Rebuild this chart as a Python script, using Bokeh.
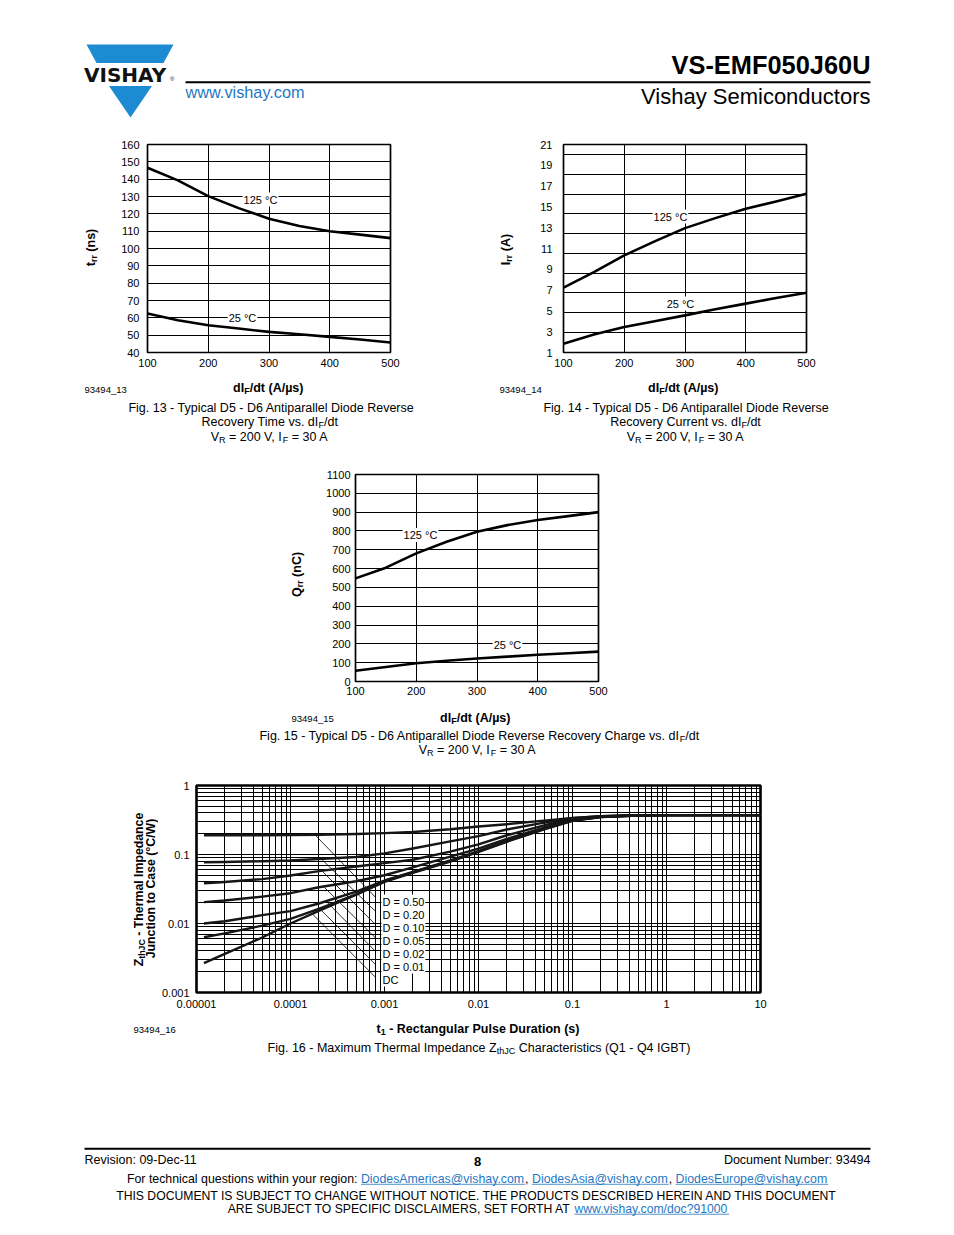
import math
from bokeh.plotting import figure
from bokeh.models import Range1d, Label, FixedTicker, CustomJSTickFormatter, LinearScale
from bokeh.layouts import column, row
from bokeh.embed import file_html
from bokeh.resources import INLINE
from bokeh.core.properties import value

FONT = "Liberation Sans"
BLUE = "#1d8bd1"
LINK = "#1f77c4"

# ---------------- data ----------------
didt = [100, 150, 200, 250, 300, 350, 400, 450, 500]
trr_125 = [146.6, 139.3, 130.2, 123.3, 117.2, 113.0, 110.0, 108.0, 106.0]
trr_25 = [62.5, 58.6, 55.7, 53.8, 51.9, 50.5, 49.0, 47.5, 45.8]
irr_125 = [7.23, 8.73, 10.34, 11.68, 12.96, 13.92, 14.82, 15.52, 16.26]
irr_25 = [1.85, 2.72, 3.45, 4.00, 4.57, 5.15, 5.70, 6.24, 6.75]
qrr_125 = [548, 605, 681, 743, 796, 831, 858, 879, 900]
qrr_25 = [57, 77, 97, 110, 122, 132, 142, 150, 159]

didt_ticks = [100, 200, 300, 400, 500]
trr_ticks = list(range(40, 161, 10))
irr_ticks = list(range(1, 22, 2))
irr_grid = [20.04, 18.13, 16.24, 14.35, 12.45, 10.54, 8.64, 6.74, 4.85, 2.95]
qrr_ticks = list(range(0, 1101, 100))

t1 = [1.2e-5, 2e-5, 5e-5, 1e-4, 2e-4, 5e-4, 1e-3, 2e-3, 5e-3, 1e-2, 2e-2, 5e-2, 1e-1, 2e-1, 5e-1, 1, 10]
z_050 = [0.190, 0.190, 0.190, 0.191, 0.193, 0.198, 0.204, 0.212, 0.232, 0.255, 0.275, 0.310, 0.340, 0.360, 0.370, 0.372, 0.372]
z_020 = [0.0774, 0.078, 0.080, 0.082, 0.086, 0.092, 0.104, 0.122, 0.155, 0.185, 0.230, 0.290, 0.335, 0.360, 0.370, 0.372, 0.372]
z_010 = [0.0384, 0.0400, 0.0440, 0.0496, 0.0575, 0.067, 0.075, 0.084, 0.110, 0.140, 0.190, 0.265, 0.325, 0.355, 0.370, 0.372, 0.372]
z_005 = [0.0204, 0.0215, 0.0245, 0.0275, 0.0335, 0.041, 0.050, 0.065, 0.093, 0.122, 0.168, 0.245, 0.318, 0.353, 0.369, 0.372, 0.372]
z_002 = [0.0100, 0.0108, 0.0132, 0.0151, 0.0195, 0.029, 0.042, 0.056, 0.082, 0.112, 0.158, 0.238, 0.312, 0.351, 0.368, 0.372, 0.372]
z_001 = [0.00633, 0.0072, 0.0093, 0.0117, 0.0163, 0.0265, 0.041, 0.055, 0.080, 0.110, 0.155, 0.235, 0.310, 0.350, 0.368, 0.372, 0.372]
z_dc = [0.00266, 0.00362, 0.00627, 0.0100, 0.0152, 0.0262, 0.040, 0.054, 0.079, 0.109, 0.153, 0.232, 0.308, 0.349, 0.368, 0.372, 0.372]
zth_series = [z_050, z_020, z_010, z_005, z_002, z_001, z_dc]
zth_labels = ["D = 0.50", "D = 0.20", "D = 0.10", "D = 0.05", "D = 0.02", "D = 0.01", "DC"]
leader_t0 = [1.85e-4, 2.17e-4, 2.14e-4, 2.24e-4, 2.41e-4, 2.08e-4, 1.71e-4]
leader_z0 = [0.1885, 0.0838, 0.0586, 0.0344, 0.0208, 0.0160, 0.01373]
leader_t1 = [8.0e-4] * 7
leader_z1 = [0.0241, 0.01507, 0.00967, 0.00621, 0.00397, 0.00255, 0.00167]

t_ticks = [1e-5, 1e-4, 1e-3, 1e-2, 1e-1, 1, 10]
z_ticks = [1e-3, 1e-2, 1e-1, 1]
t_minor = [m * d for d in t_ticks[:-1] for m in range(2, 10)]
z_minor = [m * d for d in z_ticks[:-1] for m in range(2, 10)]

# ---------------- text metrics (Arial / Liberation Sans) ----------------
REG = {' ': 278, '!': 278, '(': 333, ')': 333, '-': 333, '.': 278, '/': 278, ':': 278, ',': 278,
       '=': 584, '?': 556, '@': 1015, '_': 556, 'A': 667, 'B': 667, 'C': 722, 'D': 722, 'E': 667,
       'F': 611, 'G': 778, 'H': 722, 'I': 278, 'J': 500, 'K': 667, 'L': 556, 'M': 833, 'N': 722,
       'O': 778, 'P': 667, 'Q': 778, 'R': 722, 'S': 667, 'T': 611, 'U': 722, 'V': 667, 'W': 944,
       'X': 667, 'Y': 667, 'Z': 611, 'a': 556, 'b': 556, 'c': 500, 'd': 556, 'e': 556, 'f': 278,
       'g': 556, 'h': 556, 'i': 222, 'j': 222, 'k': 500, 'l': 222, 'm': 833, 'n': 556, 'o': 556,
       'p': 556, 'q': 556, 'r': 333, 's': 500, 't': 278, 'u': 556, 'v': 500, 'w': 722, 'x': 500,
       'y': 500, 'z': 500, '°': 400, 'µ': 556}
BOLD = {' ': 278, '(': 333, ')': 333, '-': 333, '.': 278, '/': 278, ':': 333, ',': 278, '=': 584,
        'A': 722, 'B': 722, 'C': 722, 'D': 722, 'E': 667, 'F': 611, 'G': 778, 'H': 722, 'I': 278,
        'J': 556, 'K': 722, 'L': 611, 'M': 833, 'N': 722, 'O': 778, 'P': 667, 'Q': 778, 'R': 722,
        'S': 667, 'T': 611, 'U': 722, 'V': 667, 'W': 944, 'X': 667, 'Y': 667, 'Z': 611, 'a': 556,
        'b': 611, 'c': 556, 'd': 611, 'e': 556, 'f': 333, 'g': 611, 'h': 611, 'i': 278, 'j': 278,
        'k': 556, 'l': 278, 'm': 889, 'n': 611, 'o': 611, 'p': 611, 'q': 611, 'r': 389, 's': 556,
        't': 333, 'u': 611, 'v': 556, 'w': 778, 'x': 556, 'y': 556, 'z': 500, '°': 400, 'µ': 611}


def tw(s, size, bold=False):
    tbl = BOLD if bold else REG
    return sum(tbl.get(c, 556) for c in s) * size / 1000.0


def put(p, x, y, s, fs, bold, color, align, ang, rng, font=FONT):
    p.add_layout(Label(x=x, y=y, text=s, x_range_name=rng, y_range_name=rng, angle=ang,
                       text_font=font, text_font_size=f"{fs:.2f}px",
                       text_font_style="bold" if bold else "normal", text_color=color,
                       text_align=align, text_baseline="alphabetic"))


def rich(p, X, Y, parts, size, bold=False, align="center", vertical=False, rng="px", color="black"):
    """(X, Y) is the visual centre line of the text (page pixels)."""
    SUB = 0.72
    ang = math.pi / 2 if vertical else 0.0
    if len(parts) == 1 and "u" not in parts[0][1]:
        put(p, X, Y, parts[0][0].strip(" "), size, bold, color, align, ang, rng)
        return
    items = []
    for t, o in parts:
        fs = size * SUB if "s" in o else size
        items.append((t, o, fs, tw(t, fs, bold)))
    total = sum(i[3] for i in items)
    pos = {"left": 0.0, "center": -total / 2.0, "right": -total}[align]
    for k, (t, o, fs, w) in enumerate(items):
        shift = size * 0.27 if "s" in o else 0.0
        col = LINK if "u" in o else color
        s = t.strip(" ")
        lead = tw(t[:len(t) - len(t.lstrip(" "))], fs, bold)
        trail = tw(t[len(t.rstrip(" ")):], fs, bold)
        if k == 0:
            a, ta = pos + w - trail, "right"
        else:
            a, ta = pos + lead, "left"
        if vertical:
            put(p, X + shift, Y - a, s, fs, bold, col, ta, ang, rng)
        else:
            put(p, X + a, Y + shift, s, fs, bold, col, ta, ang, rng)
        if "u" in o and not vertical:
            p.segment(x0=[X + pos + lead], y0=[Y + size * 0.47], x1=[X + pos + w - trail],
                      y1=[Y + size * 0.47], line_color=col, line_width=0.8,
                      x_range_name=rng, y_range_name=rng)
        pos += w


def boxed(p, X, Y, s, size=11, align="center"):
    p.text(x=[X], y=[Y], text=[s], x_range_name="px", y_range_name="px", text_font=value(FONT),
           text_font_size=f"{size}px", text_align=align, text_baseline="alphabetic",
           text_color="black", background_fill_color="white", padding=1)


def blank(left, top, width, height, bt=0, bb=0):
    """A text canvas; its 'px' ranges are page pixel coordinates."""
    xr = Range1d(left, left + width)
    yr = Range1d(top + height - bb, top + bt)
    p = figure(width=width, height=height, x_range=xr, y_range=yr,
               x_axis_location=None, y_axis_location=None, min_border_left=0, min_border_right=0,
               min_border_top=bt, min_border_bottom=bb, output_backend="svg",
               toolbar_location=None, outline_line_color=None)
    p.extra_x_ranges = {"px": Range1d(left, left + width)}
    p.extra_y_ranges = {"px": Range1d(top + height - bb, top + bt)}
    p.grid.visible = False
    return p


def chart(row_left, row_top, width, height, fl, fr, ft, fb, xr, yr, log=False):
    bl = round(fl - row_left)
    br = round(row_left + width - fr)
    bt = round(ft - row_top)
    bb = round(row_top + height - fb)
    kw = dict(x_axis_type="log", y_axis_type="log") if log else {}
    p = figure(width=width, height=height, x_range=xr, y_range=yr, output_backend="svg",
               toolbar_location=None, min_border_left=bl, min_border_right=br,
               min_border_top=bt, min_border_bottom=bb, **kw)
    FL, FR = row_left + bl, row_left + width - br
    FT, FB = row_top + bt, row_top + height - bb
    p.extra_x_ranges = {"px": Range1d(FL, FR)}
    p.extra_y_ranges = {"px": Range1d(FB, FT)}
    p.extra_x_scales = {"px": LinearScale()}
    p.extra_y_scales = {"px": LinearScale()}
    for ax in p.axis:
        ax.major_tick_line_color = None
        ax.minor_tick_line_color = None
        ax.major_tick_out = 0
        ax.major_tick_in = 0
        ax.minor_tick_out = 0
        ax.minor_tick_in = 0
        ax.axis_line_color = None
        ax.major_label_text_font = FONT
        ax.major_label_text_font_size = "11px"
        ax.major_label_text_color = "black"
    p.grid.grid_line_color = "black"
    p.grid.grid_line_width = 1
    p.grid.grid_line_alpha = 1
    p.outline_line_color = "black"
    p.outline_line_width = 1.7
    p.outline_line_alpha = 1
    return p


def lin_chart(p, xt, yt, sx, sy, ygrid=None):
    p.xaxis.ticker = FixedTicker(ticks=xt)
    p.yaxis.ticker = FixedTicker(ticks=yt)
    p.xgrid.ticker = FixedTicker(ticks=xt)
    p.ygrid.ticker = FixedTicker(ticks=ygrid if ygrid is not None else yt)
    p.xaxis.major_label_standoff = sx
    p.yaxis.major_label_standoff = sy


def caption(p, X, Y, parts):
    rich(p, X, Y, parts, 12.5)


VR_IF = [("V", ""), ("R", "s"), (" = 200 V, I", ""), ("F", "s"), (" = 30 A", "")]
DIDT = [("dI", ""), ("F", "s"), ("/dt (A/µs)", "")]

# ---------------- A: header ----------------
hdr = blank(8, 8, 938, 127)
hdr.patch([86, 173, 163, 96], [44, 44, 62.5, 62.5], color=BLUE, line_width=0, x_range_name="px", y_range_name="px")
hdr.patch([108.5, 151.5, 130], [85.5, 85.5, 117], color=BLUE, line_width=0, x_range_name="px", y_range_name="px")
put(hdr, 83.5, 74.3, "VISHAY", 20, True, "#111111", "left", 0.0, "px", font="DejaVu Sans")
put(hdr, 169.5, 78.5, "®", 6, False, "#111111", "left", 0.0, "px")
hdr.segment(x0=[185], y0=[81.7], x1=[870], y1=[81.7], line_color="black", line_width=2,
            x_range_name="px", y_range_name="px")
rich(hdr, 870, 64.7, [("VS-EMF050J60U", "")], 25.4, bold=True, align="right")
rich(hdr, 870, 95.5, [("Vishay Semiconductors", "")], 22, align="right")
rich(hdr, 185, 91, [("www.vishay.com", "")], 16.3, align="left", color=LINK)

# ---------------- B: Fig. 13 / Fig. 14 plots ----------------
b1 = blank(8, 135, 92, 237, bt=9, bb=20)
rich(b1, 90.5, 247, [("t", ""), ("rr", "s"), (" (ns)", "")], 12.5, bold=True, vertical=True)

f13 = chart(100, 135, 320, 237, 147, 390, 144, 352, Range1d(100, 500), Range1d(40, 160))
lin_chart(f13, didt_ticks, trr_ticks, 6, 8)
boxed(f13, 260, 199, "125 °C")
boxed(f13, 242, 317, "25 °C")
f13.line(didt, trr_125, line_color="black", line_width=2.6, line_join="round")
f13.line(didt, trr_25, line_color="black", line_width=2.6, line_join="round")

b3 = blank(420, 135, 95, 237, bt=9, bb=20)
rich(b3, 505.5, 249, [("I", ""), ("rr", "s"), (" (A)", "")], 12.5, bold=True, vertical=True)

f14 = chart(515, 135, 431, 237, 563, 806, 144, 352, Range1d(100, 500), Range1d(1, 21))
lin_chart(f14, didt_ticks, irr_ticks, 6, 11, ygrid=irr_grid)
boxed(f14, 670, 216, "125 °C")
boxed(f14, 680, 303, "25 °C")
f14.line(didt, irr_125, line_color="black", line_width=2.6, line_join="round")
f14.line(didt, irr_25, line_color="black", line_width=2.6, line_join="round")

# ---------------- C: Fig. 13 / 14 titles and captions ----------------
c = blank(8, 372, 938, 83)
rich(c, 268, 387, DIDT, 12.5, bold=True)
rich(c, 84, 389, [("93494_13", "")], 9.5, align="left")
caption(c, 271, 407, [("Fig. 13 - Typical D5 - D6 Antiparallel Diode Reverse", "")])
caption(c, 269, 421, [("Recovery Time vs. dI", ""), ("F", "s"), ("/dt", "")])
caption(c, 269, 436, VR_IF)
rich(c, 683, 387, DIDT, 12.5, bold=True)
rich(c, 499, 389, [("93494_14", "")], 9.5, align="left")
caption(c, 686, 407, [("Fig. 14 - Typical D5 - D6 Antiparallel Diode Reverse", "")])
caption(c, 685, 421, [("Recovery Current vs. dI", ""), ("F", "s"), ("/dt", "")])
caption(c, 685, 436, VR_IF)

# ---------------- D: Fig. 15 plot ----------------
d1 = blank(8, 455, 312, 247, bt=19, bb=21)
rich(d1, 296.5, 574, [("Q", ""), ("rr", "s"), (" (nC)", "")], 12.5, bold=True, vertical=True)

f15 = chart(320, 455, 626, 247, 355, 598, 474, 681, Range1d(100, 500), Range1d(0, 1100))
lin_chart(f15, didt_ticks, qrr_ticks, 5, 5)
boxed(f15, 420, 534.5, "125 °C")
boxed(f15, 507, 644.5, "25 °C")
f15.line(didt, qrr_125, line_color="black", line_width=2.6, line_join="round")
f15.line(didt, qrr_25, line_color="black", line_width=2.6, line_join="round")

# ---------------- E: Fig. 15 titles ----------------
e = blank(8, 702, 938, 63)
rich(e, 475, 717, DIDT, 12.5, bold=True)
rich(e, 291, 718, [("93494_15", "")], 9.5, align="left")
caption(e, 478.5, 735, [("Fig. 15 - Typical D5 - D6 Antiparallel Diode Reverse Recovery Charge vs. dI", ""),
                        ("F", "s"), ("/dt", "")])
caption(e, 477, 749, VR_IF)

# ---------------- F: Fig. 16 plot ----------------
f1 = blank(8, 765, 150, 248, bt=20, bb=21)
rich(f1, 138.6, 889, [("Z", ""), ("thJC", "s"), (" - Thermal Impedance", "")], 12.3, bold=True, vertical=True)
rich(f1, 150.9, 888, [("Junction to Case (°C/W)", "")], 12.3, bold=True, vertical=True)

f16 = chart(158, 765, 788, 248, 196, 760, 785, 992, Range1d(1e-5, 10), Range1d(1e-3, 1), log=True)
fmt = CustomJSTickFormatter(code="if (tick >= 1) { return tick.toFixed(0); } "
                                 "const d = Math.round(-Math.log10(tick)); return tick.toFixed(d);")
xt = FixedTicker(ticks=t_ticks, minor_ticks=t_minor)
yt = FixedTicker(ticks=z_ticks, minor_ticks=z_minor)
f16.xaxis.ticker = xt
f16.yaxis.ticker = yt
f16.xgrid.ticker = xt
f16.ygrid.ticker = yt
f16.xaxis.formatter = fmt
f16.yaxis.formatter = fmt
f16.xaxis.major_label_standoff = 7
f16.yaxis.major_label_standoff = 7
f16.grid.minor_grid_line_color = "black"
f16.grid.minor_grid_line_width = 1
f16.grid.minor_grid_line_alpha = 1
f16.outline_line_width = 2.6
f16.segment(x0=leader_t0, y0=leader_z0, x1=leader_t1, y1=leader_z1, line_color="black", line_width=0.8)
for i, lab in enumerate(zth_labels):
    boxed(f16, 381, 901 + 13 * i, lab, align="left")
for z in zth_series:
    f16.line(t1, z, line_color="#161616", line_width=2.4, line_join="round")

# ---------------- G: Fig. 16 titles ----------------
g = blank(8, 1013, 938, 52)
rich(g, 477.5, 1028, [("t", ""), ("1", "s"), (" - Rectangular Pulse Duration (s)", "")], 12.5, bold=True)
rich(g, 133, 1029, [("93494_16", "")], 9.5, align="left")
caption(g, 478.5, 1047, [("Fig. 16 - Maximum Thermal Impedance Z", ""), ("thJC", "s"),
                         (" Characteristics (Q1 - Q4 IGBT)", "")])

# ---------------- H: footer ----------------
ftr = blank(8, 1065, 938, 160)
ftr.segment(x0=[84], y0=[1148.3], x1=[870], y1=[1148.3], line_color="black", line_width=2,
            x_range_name="px", y_range_name="px")
rich(ftr, 84, 1159, [("Revision: 09-Dec-11", "")], 12.5, align="left")
rich(ftr, 477, 1161, [("8", "")], 13, bold=True)
rich(ftr, 870, 1159, [("Document Number: 93494", "")], 12.5, align="right")
rich(ftr, 477, 1178, [("For technical questions within your region: ", ""), ("DiodesAmericas@vishay.com", "u"),
                      (", ", ""), ("DiodesAsia@vishay.com", "u"), (", ", ""),
                      ("DiodesEurope@vishay.com", "u")], 12.35)
rich(ftr, 476.5, 1195, [("THIS DOCUMENT IS SUBJECT TO CHANGE WITHOUT NOTICE. THE PRODUCTS DESCRIBED HEREIN AND THIS DOCUMENT", "")], 12.2)
rich(ftr, 477, 1208, [("ARE SUBJECT TO SPECIFIC DISCLAIMERS, SET FORTH AT ", ""),
                      ("www.vishay.com/doc?91000", "u")], 12.2)

layout = column(row(hdr), row(b1, f13, b3, f14), row(c), row(d1, f15), row(e), row(f1, f16), row(g), row(ftr),
                margin=(8, 0, 0, 8))
open("out.html", "w").write(file_html(layout, INLINE, title="VS-EMF050J60U"))
